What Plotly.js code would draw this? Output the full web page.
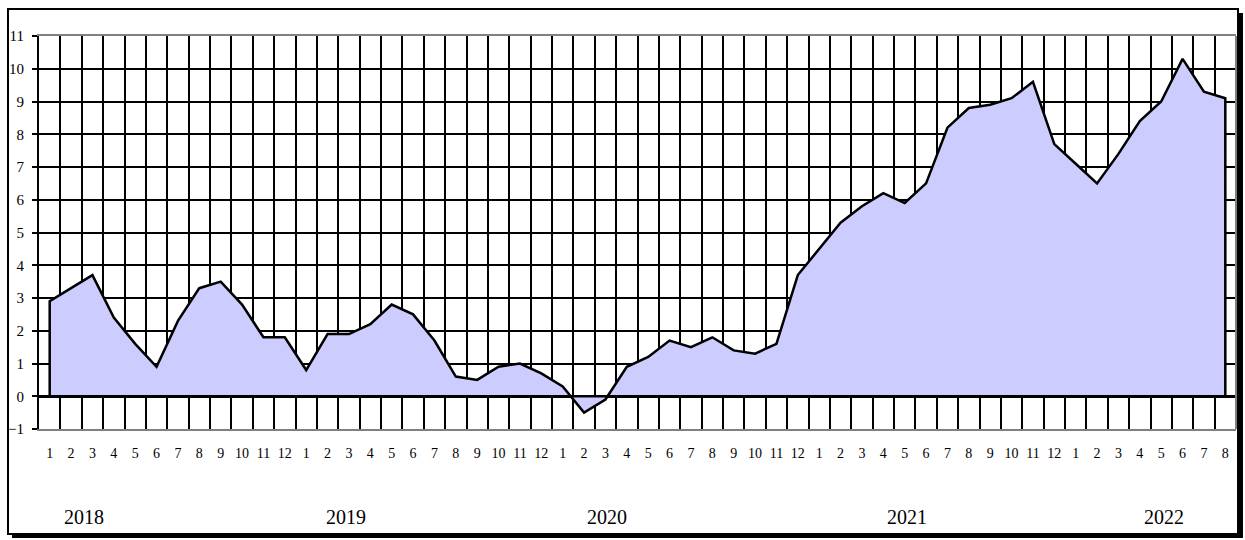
<!DOCTYPE html>
<html>
<head>
<meta charset="utf-8">
<script src="https://cdn.plot.ly/plotly-3.0.1.min.js"></script>
<style>
  html, body { margin: 0; padding: 0; background: #ffffff; }
  #chart { width: 1245px; height: 540px; }
</style>
</head>
<body>
<div id="chart"></div>
<script>
// ---- data ----
const years = ["2018", "2019", "2020", "2021", "2022"];
const monthsPerYear = [12, 12, 12, 12, 8];
const values = [
  // 2018
  2.9, 3.3, 3.7, 2.4, 1.6, 0.9, 2.3, 3.3, 3.5, 2.8, 1.8, 1.8,
  // 2019
  0.8, 1.9, 1.9, 2.2, 2.8, 2.5, 1.7, 0.6, 0.5, 0.9, 1.0, 0.7,
  // 2020
  0.3, -0.5, -0.1, 0.9, 1.2, 1.7, 1.5, 1.8, 1.4, 1.3, 1.6, 3.7,
  // 2021
  4.5, 5.3, 5.8, 6.2, 5.9, 6.5, 8.2, 8.8, 8.9, 9.1, 9.6, 7.7,
  // 2022
  7.1, 6.5, 7.4, 8.4, 9.0, 10.3, 9.3, 9.1
];

// ---- derived ----
const monthLabels = [];
monthsPerYear.forEach(n => { for (let m = 1; m <= n; m++) monthLabels.push(String(m)); });
const idx = values.map((_, i) => i);
const last = idx.length - 1;
const boundaries = [];
for (let i = 0; i <= idx.length; i++) boundaries.push(i - 0.5);

// closed outline of the area (as in the spreadsheet-style area chart)
const polyX = [0].concat(idx, [last, 0]);
const polyY = [0].concat(values, [0, 0]);

// ---- layout geometry (pixels) ----
const W = 1245, H = 540;
const L = 39, R = 9, T = 36, B = 111;
const pw = W - L - R, ph = H - T - B;
const px = p => (p - L) / pw;          // pixel x -> paper x
const py = q => (H - B - q) / ph;      // pixel y -> paper y

const yearLabelPos = [1.59, 13.84, 26.06, 40.13, 52.13];
const FONT = "Liberation Serif, Times New Roman, serif";

const trace = {
  x: polyX, y: polyY,
  type: "scatter", mode: "lines",
  fill: "toself", fillcolor: "#ccccff",
  line: { color: "#000000", width: 2.5 },
  hoverinfo: "skip"
};

const layout = {
  width: W, height: H,
  margin: { l: L, r: R, t: T, b: B, pad: 0 },
  paper_bgcolor: "#ffffff",
  plot_bgcolor: "#ffffff",
  showlegend: false,
  font: { family: FONT, color: "#000000" },
  xaxis: {
    range: [-0.5, last + 0.5],
    tickmode: "array", tickvals: idx, ticktext: monthLabels,
    ticks: "", showgrid: false, zeroline: false,
    tickfont: { family: FONT, size: 14, color: "#000" },
    ticklabelstandoff: 10,
    showline: true, linecolor: "#808080", linewidth: 2, mirror: true,
    minor: { tickmode: "array", tickvals: boundaries, showgrid: true,
             gridcolor: "#000000", gridwidth: 2, ticks: "" },
    fixedrange: true, automargin: false
  },
  yaxis: {
    range: [-1, 11], tickmode: "linear", tick0: -1, dtick: 1,
    showgrid: true, gridcolor: "#000000", gridwidth: 2,
    zeroline: true, zerolinecolor: "#000000", zerolinewidth: 3,
    ticks: "outside", ticklen: 5, tickwidth: 2, tickcolor: "#000",
    tickfont: { family: FONT, size: 15, color: "#000" },
    ticklabelstandoff: 5,
    showline: true, linecolor: "#000000", linewidth: 2,
    fixedrange: true, automargin: false
  },
  shapes: [
    // drop shadow of the outer frame
    { type: "rect", xref: "paper", yref: "paper", layer: "below",
      x0: px(12), x1: px(1243), y0: py(538), y1: py(13),
      fillcolor: "#000000", line: { width: 0 } },
    // outer frame
    { type: "rect", xref: "paper", yref: "paper", layer: "below",
      x0: px(8), x1: px(1238), y0: py(534), y1: py(9),
      fillcolor: "#ffffff", line: { color: "#000000", width: 2 } },
    // right border of plot area (grey)
    { type: "line", xref: "paper", yref: "paper", layer: "above",
      x0: 1, x1: 1, y0: 0, y1: 1, line: { color: "#808080", width: 2 } }
  ],
  annotations: years.map((yr, i) => ({
    text: yr, xref: "x", yref: "paper",
    x: yearLabelPos[i], y: py(516.5),
    xanchor: "center", yanchor: "middle", showarrow: false,
    font: { family: FONT, size: 20, color: "#000" }
  }))
};

Plotly.newPlot("chart", [trace], layout, { displayModeBar: false, staticPlot: true });
</script>
</body>
</html>
